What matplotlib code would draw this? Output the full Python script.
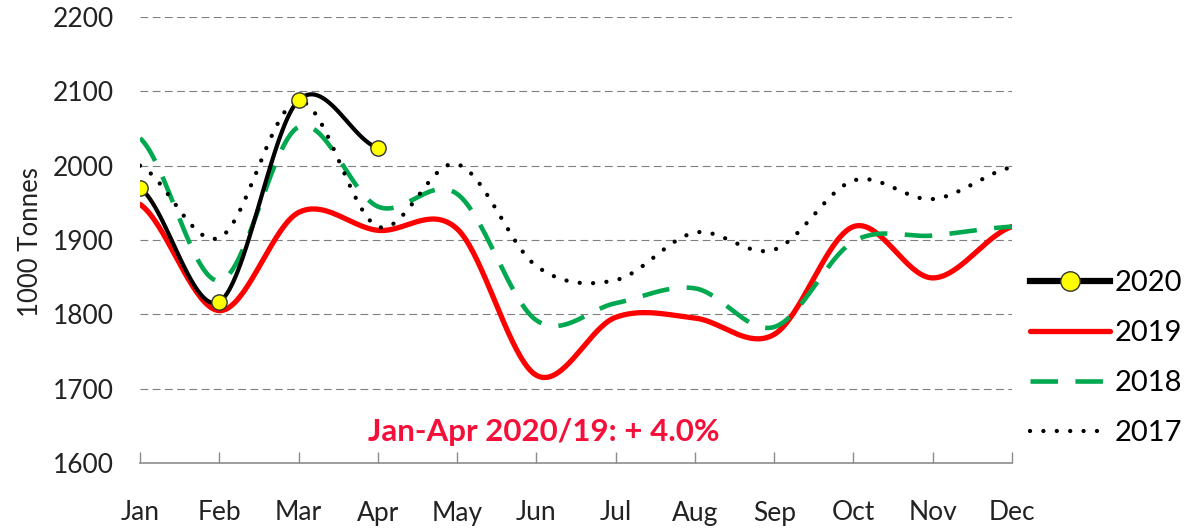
import matplotlib
matplotlib.use("Agg")
import matplotlib.pyplot as plt
import numpy as np

# ---------------------------------------------------------------------------
# Data (1000 tonnes per month)
# ---------------------------------------------------------------------------
MONTHS = ["Jan", "Feb", "Mar", "Apr", "May", "Jun",
          "Jul", "Aug", "Sep", "Oct", "Nov", "Dec"]

Y2020 = [1970, 1817, 2088, 2024]
Y2019 = [1948, 1805, 1937, 1913, 1915, 1718, 1796, 1795, 1773, 1918, 1849, 1918]
Y2018 = [2037, 1845, 2052, 1945, 1962, 1792, 1815, 1835, 1783, 1898, 1906, 1918]
Y2017 = [2000, 1903, 2087, 1918, 2002, 1865, 1846, 1910, 1887, 1980, 1955, 1998]

Y_TICKS = [1600, 1700, 1800, 1900, 2000, 2100, 2200]
NOTE = "Jan-Apr 2020/19: + 4.0%"

plt.rcParams["font.family"] = ["Lato", "DejaVu Sans"]


def smooth(values, n=40):
    """Excel-like smoothed line (Catmull-Rom / Hermite through every point)."""
    y = np.asarray(values, dtype=float)
    k = len(y)
    m = np.empty(k)
    m[1:-1] = (y[2:] - y[:-2]) / 2
    m[0] = (y[1] - y[0]) / 2
    m[-1] = (y[-1] - y[-2]) / 2
    xs, ys = [], []
    t = np.linspace(0, 1, n)
    h00 = 2 * t**3 - 3 * t**2 + 1
    h10 = t**3 - 2 * t**2 + t
    h01 = -2 * t**3 + 3 * t**2
    h11 = t**3 - t**2
    for i in range(k - 1):
        xs.append(i + t)
        ys.append(h00 * y[i] + h10 * m[i] + h01 * y[i + 1] + h11 * m[i + 1])
    return np.concatenate(xs), np.concatenate(ys)


fig = plt.figure(figsize=(12.04, 5.32), dpi=100)
ax = fig.add_axes([140 / 1204, 69 / 532, 872 / 1204, 446 / 532])

# gridlines
for v in Y_TICKS[1:]:
    ax.axhline(v, color="#7f7f7f", lw=0.8, ls=(0, (7, 4)), zorder=0)

x, y = smooth(Y2019)
l19, = ax.plot(x, y, color="#ff0000", lw=3.8, solid_capstyle="round", zorder=2)

x, y = smooth(Y2018)
l18, = ax.plot(x, y, color="#00a84f", lw=3.3, ls=(0, (6, 3.8)), zorder=3)

x, y = smooth(Y2017)
l17, = ax.plot(x, y, color="black", lw=3.1, ls=(0, (0.01, 3.1)),
               dash_capstyle="round", zorder=4)

x, y = smooth(Y2020)
ax.plot(x, y, color="black", lw=3.0, zorder=5)
ax.plot(range(len(Y2020)), Y2020, ls="none", marker="o", ms=11,
        mfc="#ffff00", mec="#333333", mew=1.0, zorder=6)
l20, = ax.plot([], [], color="black", lw=4.5, marker="o", ms=14,
               mfc="#ffff00", mec="#333333", mew=1.0)

ax.set_xlim(0, 11)
ax.set_ylim(1600, 2200)
ax.set_xticks(range(12))
ax.set_xticklabels(MONTHS)
ax.set_yticks(Y_TICKS)

for s in ["left", "right", "top"]:
    ax.spines[s].set_visible(False)
ax.spines["bottom"].set_color("#8c8c8c")
ax.spines["bottom"].set_linewidth(1.2)

ax.tick_params(axis="x", direction="in", length=8, width=1.0,
               color="#8c8c8c", pad=27, labelsize=19, labelcolor="#222222")
ax.tick_params(axis="y", length=0, pad=19, labelsize=19, labelcolor="#222222")

fig.text(31 / 1204, 1 - 242 / 532, "1000 Tonnes", rotation=90,
         ha="center", va="center", fontsize=18.5, color="#222222")

ax.text(5.1, 1642, NOTE, ha="center", va="center", fontsize=22.5,
        fontweight="bold", color="#f5103a")

fig.legend([l20, l19, l18, l17], ["2020", "2019", "2018", "2017"],
           loc="center left", bbox_to_anchor=(1030 / 1204, 1 - 358 / 532),
           frameon=False, fontsize=21, handlelength=2.75, handletextpad=0.15,
           labelspacing=0.82, borderpad=0, borderaxespad=0)

fig.savefig("out.png", dpi=100)
